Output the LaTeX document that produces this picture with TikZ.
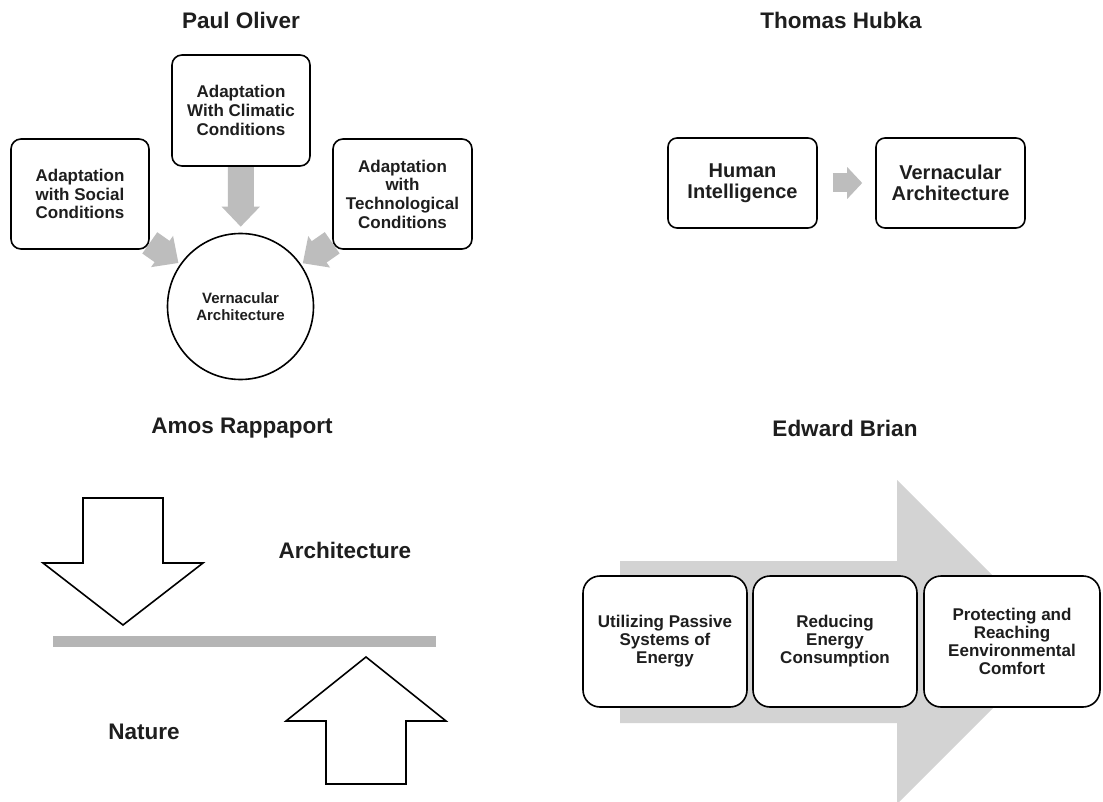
\documentclass[tikz,border=0pt]{standalone}
\usepackage{fontspec}
\setmainfont{Liberation Sans}
\usetikzlibrary{arrows.meta,calc}
\pgfdeclarelayer{paper}
\pgfdeclarelayer{flow}
\pgfsetlayers{paper,flow,main}
\definecolor{ink}{HTML}{1E1E1E}
\definecolor{flowgray}{HTML}{BDBDBD}
\definecolor{bargray}{HTML}{B5B5B5}
\definecolor{biggray}{HTML}{D3D3D3}
\tikzset{
  heading/.style={font=\bfseries\fontsize{22.5}{25}\selectfont, text=ink, inner sep=0},
  roundbox/.style={draw=black, line width=1.6pt, rounded corners=10pt, fill=white,
    align=center, inner sep=0, text=ink, font=\bfseries\fontsize{17}{18.7}\selectfont},
  hubbox/.style={roundbox, rounded corners=9pt, minimum width=149pt, minimum height=90pt,
    font=\bfseries\fontsize{20}{20.7}\selectfont},
  stagebox/.style={roundbox, rounded corners=17pt, minimum height=131pt,
    font=\bfseries\fontsize{17}{18}\selectfont},
  hub/.style={draw=black, line width=1.6pt, circle, minimum size=146pt, inner sep=0,
    fill=white, align=center, text=ink, font=\bfseries\fontsize{15}{17.5}\selectfont},
  flowarrow/.style={draw=flowgray, line width=26pt,
    -{Triangle[width=37pt,length=20pt]}},
  smallflow/.style={draw=flowgray, line width=19pt,
    -{Triangle[width=31pt,length=15pt]}},
  blockarrow/.style={draw=black, line width=1.6pt, fill=white, line join=miter},
}
\begin{document}
\begin{tikzpicture}[x=1pt,y=-1pt]
\useasboundingbox (0,0) rectangle (1103,802);
\clip (0,0) rectangle (1103,802);
\begin{pgfonlayer}{paper}
  \fill[white] (0,0) rectangle (1103,802);
\end{pgfonlayer}

% ---------------- Paul Oliver ----------------
\node[heading] (poTitle) at (241,20) {Paul Oliver};
\node[hub] (poHub) at (240.5,306.5) {Vernacular\\Architecture};
\node[roundbox, minimum width=138pt, minimum height=111pt] (poClimate) at (241,110.5)
  {Adaptation\\With Climatic\\Conditions};
\node[roundbox, minimum width=138pt, minimum height=110pt] (poSocial) at (80,194)
  {Adaptation\\with Social\\Conditions};
\node[roundbox, minimum width=139pt, minimum height=110pt] (poTech) at (402.5,194)
  {Adaptation\\with\\Technological\\Conditions};
\begin{pgfonlayer}{flow}
  \draw[flowarrow, shorten >=6pt] (poClimate) -- (poHub);
  \draw[flowarrow, shorten >=2pt] (poSocial) -- (poHub);
  \draw[flowarrow, shorten >=2pt] (poTech) -- (poHub);
\end{pgfonlayer}

% ---------------- Thomas Hubka ----------------
\node[heading] (thTitle) at (841,20) {Thomas Hubka};
\node[hubbox] (thMind) at (742.5,183) {Human\\Intelligence};
\node[hubbox] (thVern) at (950.5,183) {Vernacular\\Architecture};
\draw[smallflow, shorten <=15pt, shorten >=13pt] (thMind) -- (thVern);

% ---------------- Amos Rappaport ----------------
\node[heading] (arTitle) at (242,428) {Amos Rappaport};
\node[heading] (arArch) at (345,550) {Architecture};
\node[heading] (arNature) at (144,732) {Nature};
\fill[bargray] (53,636) rectangle (436,647);
\draw[blockarrow] (83,498) -- (163,498) -- (163,563) -- (203,563) -- (123,625)
  -- (43,563) -- (83,563) -- cycle;
\draw[blockarrow] (326,784) -- (406,784) -- (406,721) -- (446,721) -- (366,657)
  -- (286,721) -- (326,721) -- cycle;

% ---------------- Edward Brian ----------------
\node[heading] (ebTitle) at (845,428) {Edward Brian};
\fill[biggray] (620,561) -- (897,561) -- (897,480) -- (1059,642) -- (897,804)
  -- (897,723) -- (620,723) -- cycle;
\node[stagebox, minimum width=164pt] (ebPassive) at (665,641.5)
  {Utilizing Passive\\Systems of\\Energy};
\node[stagebox, minimum width=164pt] (ebReduce) at (835,641.5)
  {Reducing\\Energy\\Consumption};
\node[stagebox, minimum width=176pt] (ebComfort) at (1012,641.5)
  {Protecting and\\Reaching\\Eenvironmental\\Comfort};
\end{tikzpicture}
\end{document}
